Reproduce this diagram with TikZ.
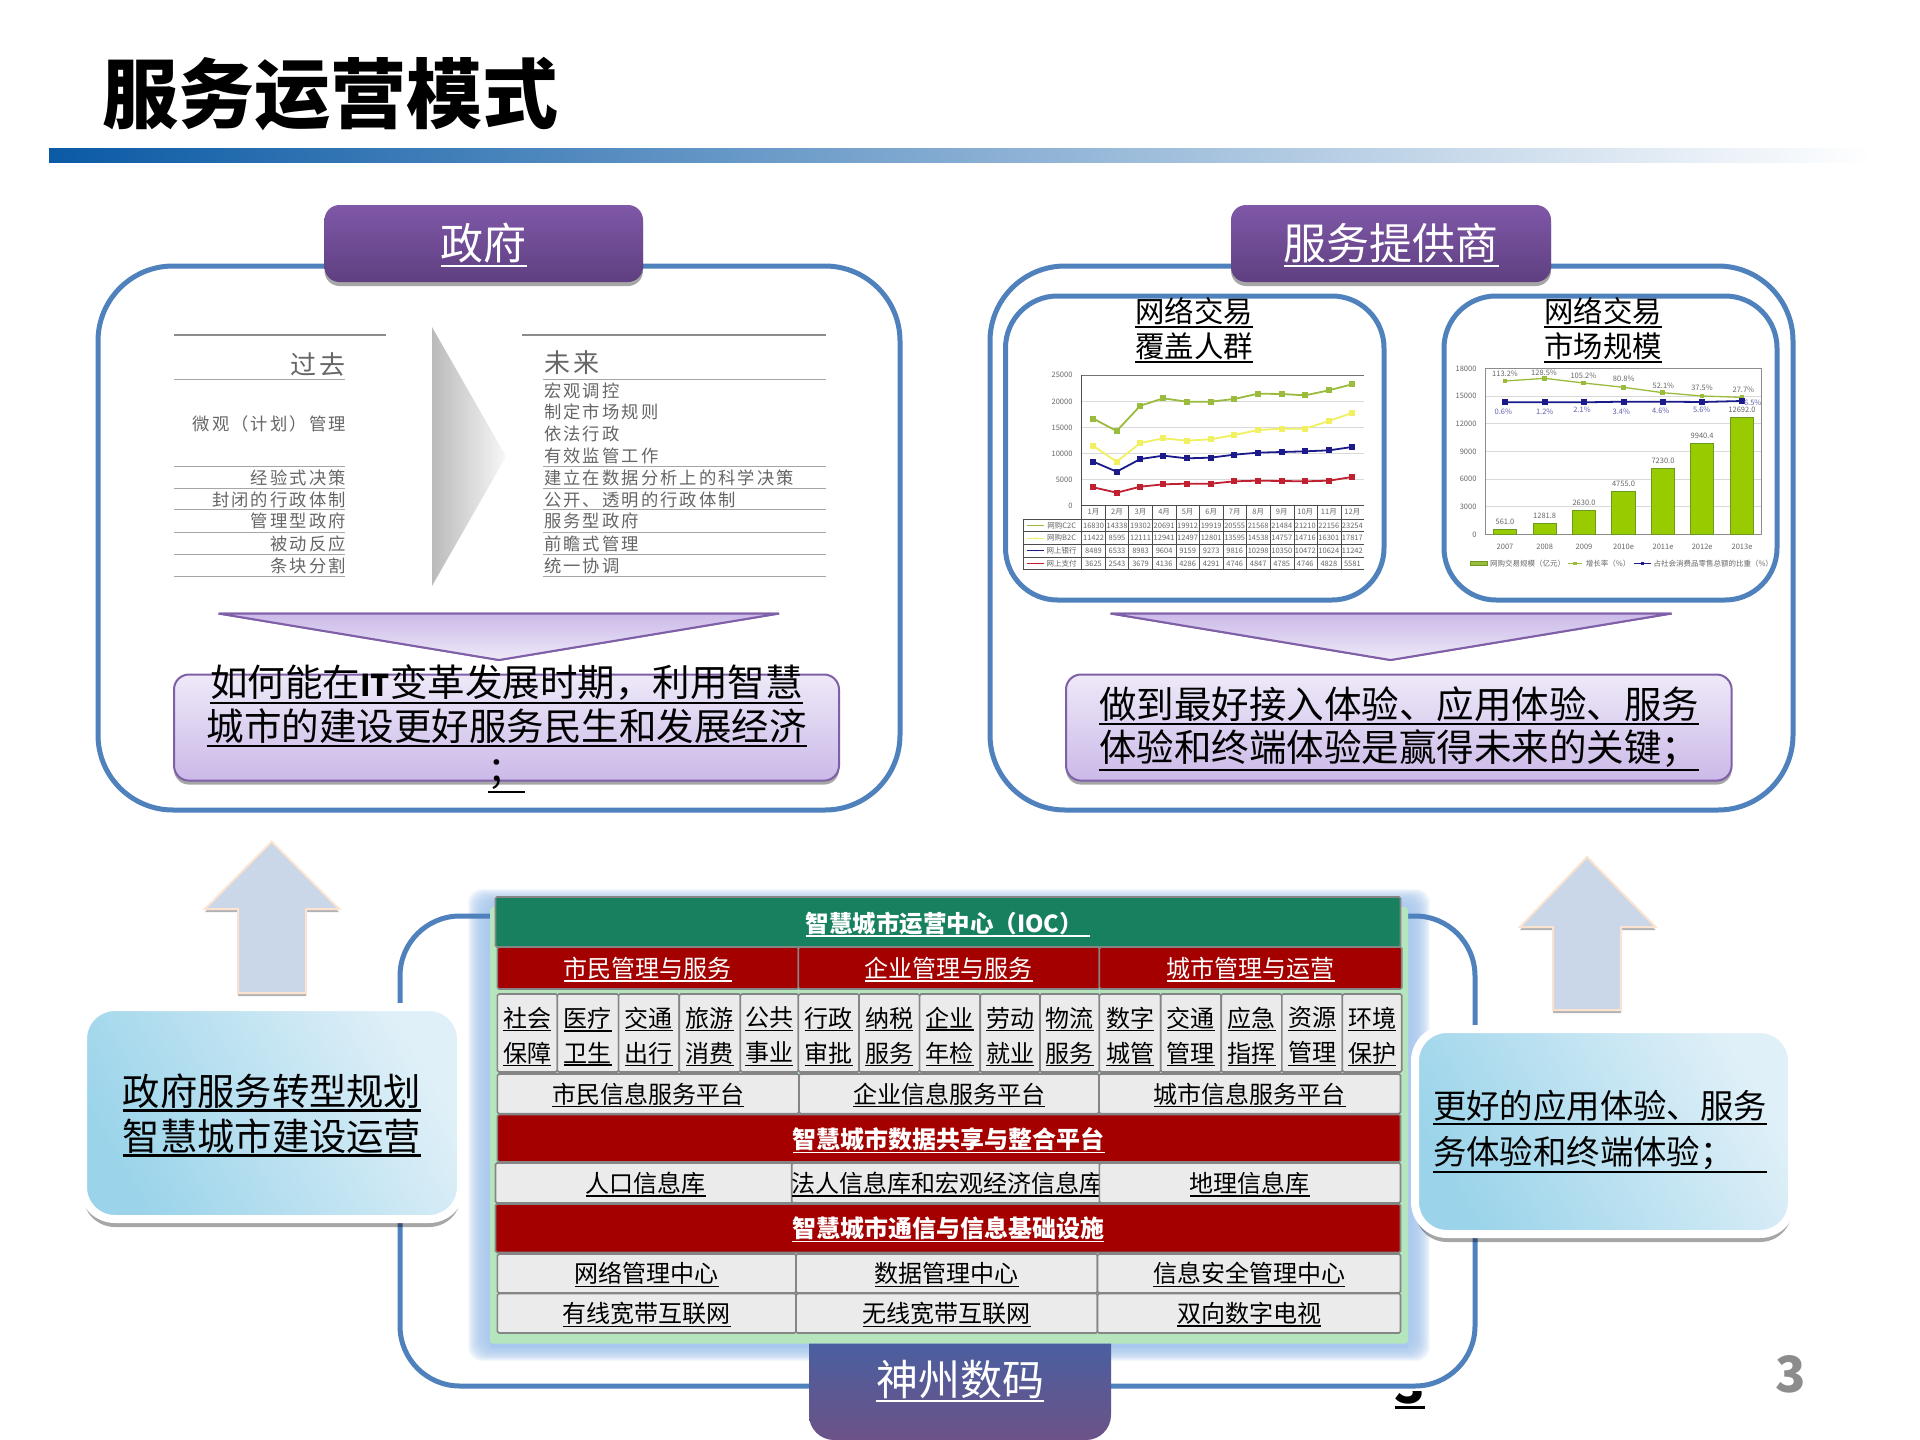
\documentclass[tikz,border=0pt]{standalone}
\usepackage{fontspec}
\setmainfont{Noto Sans CJK SC}
\newfontfamily\spacedcjk[LetterSpace=12]{Noto Sans CJK SC}
\usetikzlibrary{shadows,plotmarks}

\definecolor{barblue}{HTML}{0B5AA5}
\definecolor{barmid}{HTML}{7FA3CF}
\definecolor{frameblue}{HTML}{4F81BD}
\definecolor{headtop}{HTML}{7F58A8}
\definecolor{headbot}{HTML}{5F3F80}
\definecolor{lilacedge}{HTML}{7F60A8}
\definecolor{lilaclight}{HTML}{EEE9F8}
\definecolor{lilacdark}{HTML}{CBB9E8}
\definecolor{cellgray}{HTML}{858585}
\definecolor{cellfill}{HTML}{EBEBEB}
\definecolor{redmid}{HTML}{CC0000}
\definecolor{reddark}{HTML}{A40000}
\definecolor{iocgreen}{HTML}{17805F}
\definecolor{panelgreen}{HTML}{B5E5BD}
\definecolor{halo}{HTML}{A8C8EE}
\definecolor{skydark}{HTML}{9BD4EA}
\definecolor{skylight}{HTML}{E0F0F8}
\definecolor{arrowfill}{HTML}{C9D7E8}
\definecolor{arrowedge}{HTML}{FBE3D0}
\definecolor{corptop}{HTML}{4A5FA0}
\definecolor{corpbot}{HTML}{6C5287}
\definecolor{txtgray}{HTML}{666666}
\definecolor{c2cgreen}{HTML}{9BBB3C}
\definecolor{b2cyellow}{HTML}{F0F060}
\definecolor{bankblue}{HTML}{1A1A8A}
\definecolor{payred}{HTML}{C02030}
\definecolor{barfill}{HTML}{99CC00}
\definecolor{baredge}{HTML}{6A9A20}

\newcommand{\ul}[1]{\leavevmode\vtop{\hbox{#1}\kern.03em\hrule height .06em}}
\newcommand{\boxnode}[7][]{\node[#1,minimum width={(#5-#3)*1pt},minimum height={(#6-#4)*1pt}] (#2) at ({(#3+#5)/2},{(#4+#6)/2}) {#7};}

\tikzset{
  softshadow/.style={drop shadow={shadow xshift=0pt,shadow yshift=-4pt,opacity=.35,fill=black}},
  frameline/.style={draw=frameblue,line width=5pt,rounded corners=#1},
  headbox/.style={top color=headtop,bottom color=headbot,rounded corners=15pt,softshadow,text=white,inner sep=0pt,text height=40pt,font=\fontsize{43}{43}\selectfont},
  lilacbox/.style={draw=lilacedge,line width=2pt,top color=lilaclight,bottom color=lilacdark,rounded corners=15pt,softshadow,inner sep=0pt},
  lilacdown/.style={draw=lilacedge,line width=2pt,top color=lilacdark,bottom color=lilaclight},
  bigtxt/.style={inner sep=0pt,align=center,font=\fontsize{37.5}{43.5}\selectfont},
  charttitle/.style={inner sep=0pt,align=center,font=\fontsize{29.4}{35}\selectfont},
  cellbase/.style={draw=cellgray,line width=1.6pt,rounded corners=1.5pt,inner sep=0pt,text height=23pt,font=\fontsize{24}{35}\selectfont,align=center},
  graycell/.style={cellbase,fill=cellfill},
  redcell/.style={cellbase,top color=reddark,middle color=redmid,bottom color=reddark,text=white},
  redbold/.style={redcell,font=\fontsize{24}{35}\selectfont\bfseries},
  celltxt/.style={inner sep=0pt,align=center,font=\fontsize{24}{35}\selectfont},
  upshape/.style={fill=arrowfill,draw=arrowedge,line width=2pt,drop shadow={shadow xshift=0pt,shadow yshift=-3pt,opacity=.3,fill=black}},
  callout/.style={draw=white,line width=8pt,bottom color=skydark,top color=skylight,shading angle=-60,rounded corners=32pt,drop shadow={shadow xshift=0pt,shadow yshift=-8pt,opacity=.35,fill=black},inner sep=0pt},
  rowline/.style={draw=black!35,line width=1pt},
  oldtxt/.style={inner sep=0pt,anchor=east,text=txtgray,font=\fontsize{17.3}{17.3}\selectfont\spacedcjk},
  newtxt/.style={inner sep=0pt,anchor=west,text=txtgray,font=\fontsize{17.3}{17.3}\selectfont\spacedcjk},
  charttxt/.style={inner sep=0pt,text=txtgray,font=\fontsize{7.5}{7.5}\selectfont},
  gridline/.style={draw=black!15,line width=.7pt},
  series/.style={draw=#1,line width=1.8pt,mark=square*,mark size=6.5pt,mark options={draw=#1,fill=#1,solid}}
}

\begin{document}
\begin{tikzpicture}[x=1pt,y=-1pt]
  \useasboundingbox (0,0) rectangle (1920,1440);
  \fill[white] (0,0) rectangle (1920,1440);

  % title and bar
  \node[anchor=west,inner sep=0pt,font=\fontsize{76}{76}\selectfont\bfseries] (title) at (102,94) {服务运营模式};
  \shade[left color=barblue,middle color=barmid,right color=white] (49,148) rectangle (1873,162);

  % government panel
  \draw[frameline=75pt] (98,266) rectangle (900,810);
  \boxnode[headbox]{govhead}{324.5}{205}{643}{282}{\ul{政府}}
  \draw[line width=1.5pt,black!45] (174,335) -- (386,335);
  \draw[line width=1.5pt,black!45] (522,335) -- (825.5,335);
  \foreach \y in {379.5,466.6,488,509.6,532,554,576.5} {\draw[rowline] (174,\y) -- (345,\y); \draw[rowline] (543,\y) -- (825.5,\y);}
  \node[oldtxt,font=\fontsize{26}{26}\selectfont\spacedcjk] (past) at (346,364) {过去};
  \node[newtxt,font=\fontsize{26}{26}\selectfont\spacedcjk] (future) at (544,363) {未来};
  \foreach \y/\txt [count=\i] in {424/微观（计划）管理,478/经验式决策,500/封闭的行政体制,521/管理型政府,544/被动反应,565.5/条块分割} {\node[oldtxt] (old\i) at (346,\y) {\txt};}
  \foreach \y/\txt [count=\i] in {391/宏观调控,412/制定市场规则,434/依法行政,456/有效监管工作,478/建立在数据分析上的科学决策,500/公开、透明的行政体制,521/服务型政府,544/前瞻式管理,565.5/统一协调} {\node[newtxt] (new\i) at (544,\y) {\txt};}
  \shade[left color=black!27,right color=black!3] (432,327) -- (506,456.5) -- (432,586) -- cycle;
  \shade[lilacdown] (218.6,613.5) -- (779,613.5) -- (499,660) -- cycle;
  \draw[lilacdown,fill=none] (218.6,613.5) -- (779,613.5) -- (499,660) -- cycle;
  \boxnode[lilacbox]{govbox}{174}{674.5}{839}{780.6}{}
  \node[bigtxt] (govtxt) at (506.5,729) {\ul{如何能在{\fontsize{30}{30}\selectfont\textbf{IT}}变革发展时期，利用智慧}\\\ul{城市的建设更好服务民生和发展经济}\\\ul{；}};

  % provider panel
  \draw[frameline=75pt] (990,266) rectangle (1793,810);
  \boxnode[headbox]{prohead}{1231}{205}{1551}{282}{\ul{服务提供商}}
  \draw[frameline=52pt] (1005.5,296) rectangle (1384,600);
  \draw[frameline=52pt] (1444,296) rectangle (1777,600);
  \node[charttitle] (covertxt) at (1194,330) {\ul{网络交易}\\\ul{覆盖人群}};
  \node[charttitle] (sizetxt) at (1603,330) {\ul{网络交易}\\\ul{市场规模}};

  % coverage chart
  \begin{scope}[shift={(1000,290)},xscale=1/3,yscale=1/3]
    \foreach \y in {334,412,490,569} {\draw[gridline] (245,\y) -- (1092,\y);}
    \draw[black!55,line width=.8pt] (245,255) -- (1092,255);
    \draw[black!70,line width=.8pt] (245,255) -- (245,838);
    \foreach \y/\val [count=\i] in {255/25000,334/20000,412/15000,490/10000,569/5000,647/0} {\node[charttxt,anchor=east] (covy\i) at (218,\y) {\val};}
    \draw[series=c2cgreen] plot coordinates {(280,386) (350,423) (421,347) (490,325) (560,335) (632,335) (703,327) (774,311) (845,312) (915,316) (987,301) (1056,283)};
    \draw[series=b2cyellow] plot coordinates {(280,468) (350,515) (421,459) (490,445) (560,452) (632,448) (703,435) (774,420) (845,416) (915,416) (987,393) (1056,369)};
    \draw[series=bankblue] plot coordinates {(280,515) (350,545) (421,507) (490,497) (560,505) (632,503) (703,494) (774,488) (845,486) (915,484) (987,481) (1056,471)};
    \draw[series=payred] plot coordinates {(280,592) (350,608) (421,590) (490,583) (560,581) (632,581) (703,574) (774,572) (845,573) (915,574) (987,572) (1056,561)};
    % data table
    \draw[black!70,line width=.8pt] (245,647) -- (1092,647);
    \foreach \y in {687,725,763,802,838} {\draw[black!70,line width=.8pt] (70,\y) -- (1092,\y);}
    \draw[black!70,line width=.8pt] (70,687) -- (70,838);
    \foreach \x in {316,386,457,528,597,670,740,810,882,953,1024} {\draw[black!70,line width=.6pt] (\x,647) -- (\x,838);}
    \foreach \m [count=\i] in {1月,2月,3月,4月,5月,6月,7月,8月,9月,10月,11月,12月} {\node[charttxt] (mon\i) at ({280.5+70.6*(\i-1)},667) {\m};}
    \foreach \y/\col/\txt in {706/c2cgreen/网购C2C,744/b2cyellow/网购B2C,782/bankblue/网上银行,820/payred/网上支付} {\draw[draw=\col,line width=1pt] (80,\y) -- (132,\y); \fill[\col] (106,\y) circle [radius=2pt]; \node[charttxt] (leg\y) at (185,\y) {\txt};}
    \foreach \val [count=\i] in {16830,14338,19302,20691,19912,19919,20555,21568,21484,21210,22156,23254} {\node[charttxt] (ca\i) at ({280.5+70.6*(\i-1)},706) {\val};}
    \foreach \val [count=\i] in {11422,8595,12111,12941,12497,12801,13595,14538,14757,14716,16301,17817} {\node[charttxt] (cb\i) at ({280.5+70.6*(\i-1)},744) {\val};}
    \foreach \val [count=\i] in {8489,6533,8983,9604,9159,9273,9816,10298,10350,10472,10624,11242} {\node[charttxt] (cc\i) at ({280.5+70.6*(\i-1)},782) {\val};}
    \foreach \val [count=\i] in {3625,2543,3679,4136,4286,4291,4746,4847,4785,4746,4828,5581} {\node[charttxt] (cd\i) at ({280.5+70.6*(\i-1)},820) {\val};}
  \end{scope}

  % market size chart
  \begin{scope}[shift={(1450,290)},xscale=1/3,yscale=1/3]
    \foreach \y in {318,401,484,567,650} {\draw[gridline] (105,\y) -- (935,\y);}
    \draw[black!45,line width=.8pt] (105,235) rectangle (935,733);
    \foreach \y/\val [count=\i] in {235/18000,318/15000,401/12000,484/9000,567/6000,650/3000,733/0} {\node[charttxt,anchor=east] (sizey\i) at (80,\y) {\val};}
    \foreach \xa/\xb/\top/\val/\yr [count=\i] in {130/200/718/561.0/2007,250/318/700/1281.8/2008,367/437/660/2630.0/2009,485/556/603/4755.0/2010e,604/674/534/7230.0/2011e,722/791/460/9940.4/2012e,841/911/382/12692.0/2013e} {
      \draw[draw=baredge,fill=barfill,line width=.8pt] (\xa,733) rectangle (\xb,\top);
      \node[charttxt] (barv\i) at ({(\xa+\xb)/2},\top-23) {\val};
      \node[charttxt] (year\i) at ({(\xa+\xb)/2},770) {\yr};
    }
    \draw[series=c2cgreen,line width=1.3pt,mark size=5pt] plot coordinates {(165,273) (284,265) (401,279) (521,292) (638,308) (756,318) (876,322)};
    \draw[series=bankblue,mark size=6pt] plot coordinates {(165,337) (284,337) (401,337) (521,335) (638,335) (756,336) (876,333)};
    \foreach \x/\y/\val [count=\i] in {165/252/113.2\%,282/249/128.5\%,400/257/105.2\%,521/266/80.8\%,640/288/52.1\%,756/292/37.5\%,880/300/27.7\%} {\node[charttxt] (rate\i) at (\x,\y) {\val};}
    \foreach \x/\y/\val [count=\i] in {160/364/0.6\%,284/364/1.2\%,396/360/2.1\%,514/364/3.4\%,632/362/4.6\%,755/360/5.6\%,908/338/6.5\%} {\node[charttxt,text=bankblue!70] (share\i) at (\x,\y) {\val};}
    \draw[draw=baredge,fill=c2cgreen,line width=.8pt] (62,815) rectangle (112,825);
    \node[charttxt,anchor=west] (legbar) at (120,820) {网购交易规模（亿元）};
    \draw[draw=c2cgreen,line width=1pt] (354,820) -- (395,820);
    \fill[c2cgreen] (370,815) rectangle (380,825);
    \node[charttxt,anchor=west] (legrate) at (407,820) {增长率（\%）};
    \draw[draw=bankblue,line width=1pt] (553,820) -- (603,820);
    \fill[bankblue] (572,815) rectangle (582,825);
    \node[charttxt,anchor=west] (legshare) at (610,820) {占社会消费品零售总额的比重（\%）};
  \end{scope}

  \shade[lilacdown] (1110.6,613.5) -- (1671.6,613.5) -- (1390.5,660) -- cycle;
  \draw[lilacdown,fill=none] (1110.6,613.5) -- (1671.6,613.5) -- (1390.5,660) -- cycle;
  \boxnode[lilacbox]{probox}{1066}{674.5}{1731.6}{780.6}{}
  \node[bigtxt] (protxt) at (1399,729) {\ul{做到最好接入体验、应用体验、服务}\\\ul{体验和终端体验是赢得未来的关键；}};

  % up arrows
  \draw[upshape] (271.7,841.7) -- (339,909) -- (306,909) -- (306,993) -- (238,993) -- (238,909) -- (205,909) -- cycle;
  \draw[upshape] (1587,857) -- (1655.5,927) -- (1621,927) -- (1621,1010) -- (1553,1010) -- (1553,927) -- (1520,927) -- cycle;

  % bottom platform
  \foreach \i in {1,...,20} {\fill[halo,opacity=.12,rounded corners=14pt] ({490-1.1*\i},{907-.9*\i}) rectangle ({1408+1.1*\i},{1344+.85*\i});}
  \fill[halo] (490,907) rectangle (1408,1348);
  \draw[frameline=60pt] (400,916) rectangle (1475,1386);
  \begin{scope}
    \clip (1380,1391) rectangle (1440,1420);
    \node[anchor=south,inner sep=0pt,font=\fontsize{50}{50}\selectfont\bfseries] (hiddenpage) at (1410,1409) {\ul{3}};
  \end{scope}
  \fill[panelgreen,rounded corners=3pt] (490,907) rectangle (1408,1343.6);

  \boxnode[cellbase,fill=iocgreen,text=white,text height=25pt,font=\fontsize{23.5}{23.5}\selectfont\bfseries]{ioc}{495.5}{897}{1400.5}{947}{\ul{智慧城市运营中心（IOC）\hspace{.3em}}}
  \foreach \xa/\xb/\txt [count=\i] in {497.4/798.4/市民管理与服务,798.4/1099.4/企业管理与服务,1099.4/1401.7/城市管理与运营} {\boxnode[redcell]{mgr\i}{\xa}{947}{\xb}{989}{\ul{\txt}}}
  \foreach \xa/\xb/\ta/\tb [count=\i] in {497.4/557.3/社会/保障,557.3/618.6/医疗/卫生,618.6/679.2/交通/出行,679.2/740.4/旅游/消费,740.4/798.4/公共/事业,798.4/859/行政/审批,859/919.6/纳税/服务,919.6/980.2/企业/年检,980.2/1040/劳动/就业,1040/1099.4/物流/服务,1099.4/1160.7/数字/城管,1160.7/1221.2/交通/管理,1221.2/1281.8/应急/指挥,1281.8/1342.4/资源/管理,1342.4/1401.7/环境/保护} {
    \boxnode[graycell]{srv\i}{\xa}{994}{\xb}{1072}{}
    \node[celltxt] (srvtxt\i) at ({(\xa+\xb)/2},1036.5) {\ul{\ta}\\\ul{\tb}};
  }
  \foreach \xa/\xb/\txt [count=\i] in {497.4/799/市民信息服务平台,799/1099/企业信息服务平台,1099/1400.5/城市信息服务平台} {\boxnode[graycell]{plat\i}{\xa}{1074}{\xb}{1113.6}{\ul{\txt}}}
  \boxnode[redbold,text height=25pt]{share}{497.4}{1114.6}{1400.5}{1162}{\ul{智慧城市数据共享与整合平台}}
  \foreach \xa/\xb/\txt [count=\i] in {495.5/796/人口信息库,796/1099.4/法人信息库和宏观经济信息库,1099.4/1400.5/地理信息库} {\boxnode[graycell]{base\i}{\xa}{1163}{\xb}{1203}{\ul{\txt}}}
  \boxnode[redbold]{infra}{495.5}{1204}{1400.5}{1252.5}{\ul{智慧城市通信与信息基础设施}}
  \foreach \xa/\xb/\txt [count=\i] in {497.4/796/网络管理中心,796/1097.5/数据管理中心,1097.5/1400.5/信息安全管理中心} {\boxnode[graycell]{ctr\i}{\xa}{1254}{\xb}{1293}{\ul{\txt}}}
  \foreach \xa/\xb/\txt [count=\i] in {497.4/796/有线宽带互联网,796/1097.5/无线宽带互联网,1097.5/1400.5/双向数字电视} {\boxnode[graycell]{net\i}{\xa}{1293.6}{\xb}{1333}{\ul{\txt}}}

  \shade[top color=corptop,middle color=corpbot,bottom color=corpbot] (809,1343.6) -- (1111,1343.6) [rounded corners=25pt] -- (1111,1440) -- (809,1440) [sharp corners] -- cycle;
  \node[inner sep=0pt,text=white,font=\fontsize{42}{42}\selectfont] (corp) at (960,1381) {\ul{神州数码}};

  % side boxes
  \boxnode[callout]{leftbox}{83}{1007}{461}{1219}{}
  \node[inner sep=0pt,align=center,font=\fontsize{37.3}{45}\selectfont] (lefttxt) at (272,1115) {\ul{政府服务转型规划}\\\ul{智慧城市建设运营}};
  \boxnode[callout]{rightbox}{1415}{1029}{1792}{1234}{}
  \node[inner sep=0pt,align=left,font=\fontsize{33.4}{46}\selectfont] (righttxt) at (1600,1132) {\ul{更好的应用体验、服务}\\\ul{务体验和终端体验；\hspace{1em}}};

  \node[inner sep=0pt,text=black!45,font=\fontsize{50}{50}\selectfont\bfseries] (pagenum) at (1791,1374) {3};
\end{tikzpicture}
\end{document}
